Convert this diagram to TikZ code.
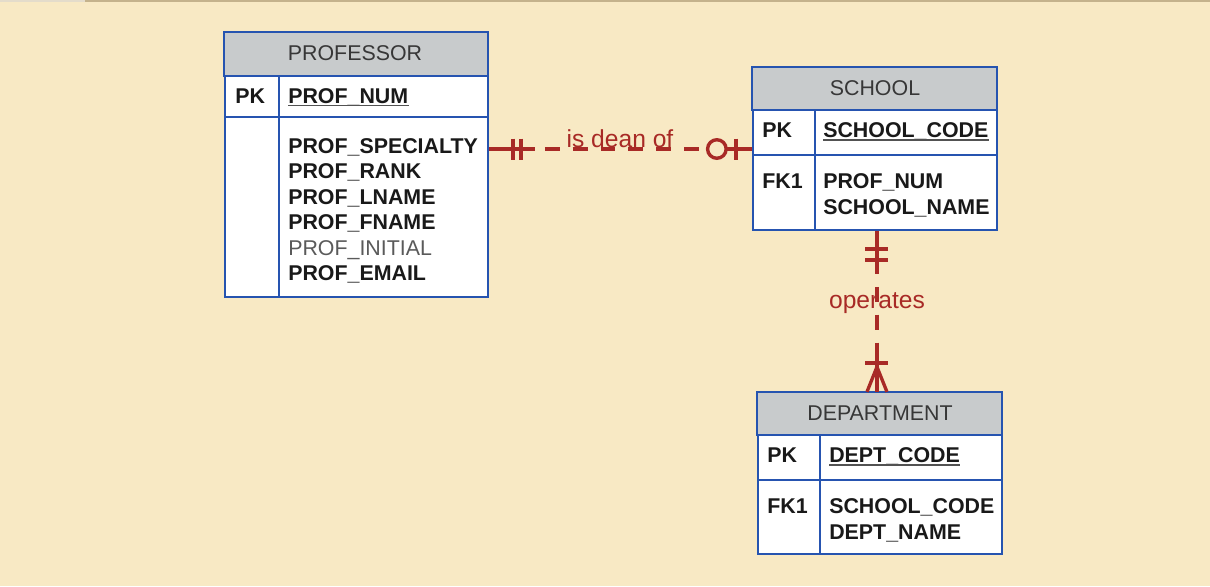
\documentclass[tikz,border=0pt]{standalone}
\usepackage{fontspec}
\setmainfont{Liberation Sans}
\usetikzlibrary{positioning, fit, calc}

\definecolor{bgtan}{RGB}{248,233,196}
\definecolor{topedge}{RGB}{196,178,140}
\definecolor{tblblue}{RGB}{38,84,176}
\definecolor{hdrgray}{RGB}{200,203,204}
\definecolor{relred}{RGB}{168,42,38}
\definecolor{attrblack}{RGB}{25,25,25}
\definecolor{titlegray}{RGB}{55,55,55}
\definecolor{initgray}{RGB}{90,90,90}

\begin{document}
\begin{tikzpicture}[
    x=0.025cm, y=-0.025cm,
    entity/.style={draw=tblblue, line width=1.6pt, fill=white, inner sep=0pt},
    header/.style={draw=tblblue, line width=1.6pt, fill=hdrgray},
    rule/.style={draw=tblblue, line width=1.6pt},
    title/.style={font=\fontsize{15.2}{18}\selectfont, text=titlegray, inner sep=0pt, anchor=base},
    attr/.style={font=\fontsize{15.2}{18}\selectfont\bfseries, text=attrblack, inner sep=0pt, anchor=base west},
    plain/.style={font=\fontsize{15.2}{18}\selectfont, text=initgray, inner sep=0pt, anchor=base west},
    keyline/.style={draw=attrblack!75, line width=1pt},
    rel/.style={draw=relred, line width=2.4pt},
    reldash/.style={rel, dash pattern=on 10.6pt off 9.2pt},
    rellabel/.style={font=\fontsize{17.5}{20}\selectfont, text=relred, inner sep=0pt, anchor=base}
]
    % page and top edge
    \useasboundingbox (0,0) rectangle (1210,586);
    \fill[bgtan] (0,0) rectangle (1210,586);
    \draw[topedge!45, line width=1.6pt] (0,1) -- (85,1);
    \draw[topedge, line width=1.6pt] (85,1) -- (1210,1);

    % PROFESSOR
    \node[entity, fit={(225,33) (488,297)}] (prof) {};
    \draw[header] (prof.north west) rectangle (488,76);
    \draw[rule] (225,117) -- (488,117);
    \draw[rule] (279,76) -- (279,297);
    \node[title] (profhdr) at (355,60) {PROFESSOR};
    \node[attr] (profpk) at (235,103) {PK};
    \node[attr] (profnum) at (288,103) {PROF\_NUM};
    \draw[keyline] ([yshift=-1.8pt]profnum.base west) -- ([yshift=-1.8pt]profnum.base east);
    \node[attr] (profspec) at (288,153.3) {PROF\_SPECIALTY};
    \node[attr] (profrank) at (288,178.8) {PROF\_RANK};
    \node[attr] (proflname) at (288,204.3) {PROF\_LNAME};
    \node[attr] (proffname) at (288,229.8) {PROF\_FNAME};
    \node[plain] (profinit) at (288,255.3) {PROF\_INITIAL};
    \node[attr] (profemail) at (288,280.8) {PROF\_EMAIL};

    % SCHOOL
    \node[entity, fit={(753,68) (997,230)}] (school) {};
    \draw[header] (school.north west) rectangle (997,110);
    \draw[rule] (753,155) -- (997,155);
    \draw[rule] (815,110) -- (815,230);
    \node[title] (schoolhdr) at (875,95) {SCHOOL};
    \node[attr] (schoolpk) at (762,137.3) {PK};
    \node[attr] (schoolcode) at (823,137.3) {SCHOOL\_CODE};
    \draw[keyline] ([yshift=-1.8pt]schoolcode.base west) -- ([yshift=-1.8pt]schoolcode.base east);
    \node[attr] (schoolfk) at (762,188.3) {FK1};
    \node[attr] (schoolprof) at (823,188.3) {PROF\_NUM};
    \node[attr] (schoolname) at (823,214) {SCHOOL\_NAME};

    % DEPARTMENT
    \node[entity, fit={(758,393) (1002,554)}] (dept) {};
    \draw[header] (dept.north west) rectangle (1002,435);
    \draw[rule] (758,480) -- (1002,480);
    \draw[rule] (820,435) -- (820,554);
    \node[title] (depthdr) at (880,420) {DEPARTMENT};
    \node[attr] (deptpk) at (767,462.3) {PK};
    \node[attr] (deptcode) at (829,462.3) {DEPT\_CODE};
    \draw[keyline] ([yshift=-1.8pt]deptcode.base west) -- ([yshift=-1.8pt]deptcode.base east);
    \node[attr] (deptfk) at (767,513.3) {FK1};
    \node[attr] (deptschool) at (829,513.3) {SCHOOL\_CODE};
    \node[attr] (deptname) at (829,539) {DEPT\_NAME};

    % is dean of: one and only one -- zero or one
    \draw[reldash] (school.west -| prof.east) -- (school.west);
    \draw[rel] (school.west -| prof.east) -- ++(46,0);
    \draw[rel] (school.west -| prof.east) ++(24,-10.5) -- ++(0,21);
    \draw[rel] (school.west -| prof.east) ++(32,-10.5) -- ++(0,21);
    \draw[rel] (school.west) -- ++(-25,0);
    \draw[rel] (school.west) ++(-16,-10.5) -- ++(0,21);
    \draw[rel, fill=bgtan] (school.west) ++(-35,0) circle[radius=6.6pt];
    \node[rellabel] (deanlbl) at (620,147) {is dean of};

    % operates: one and only one -- one or many
    \draw[reldash] ([xshift=1.4pt]school.south) -- ([xshift=1.4pt]school.south |- dept.north);
    \draw[rel] ([xshift=1.4pt]school.south) -- ++(0,33);
    \draw[rel] ([xshift=1.4pt]school.south) ++(-11.5,18) -- ++(23,0);
    \draw[rel] ([xshift=1.4pt]school.south) ++(-11.5,29) -- ++(23,0);
    \draw[rel] ([xshift=1.4pt]school.south |- dept.north) -- ++(0,-35);
    \draw[rel] ([xshift=1.4pt]school.south |- dept.north) ++(-11.5,-29) -- ++(23,0);
    \draw[rel] ([xshift=1.4pt]school.south |- dept.north) ++(-10,0) -- ++(10,-25) -- ++(10,25);
    \node[rellabel] (oplbl) at (877,308) {operates};
\end{tikzpicture}
\end{document}
